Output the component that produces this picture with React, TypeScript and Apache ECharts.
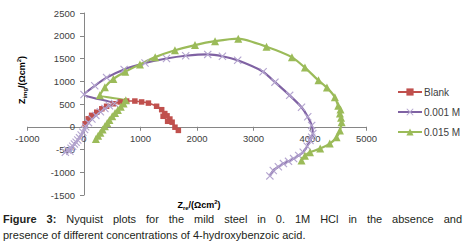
import React, { useEffect, useRef } from "react";
import * as echarts from "echarts";

const xTicks = [-1000, 0, 1000, 2000, 3000, 4000, 5000];
const yTicks = [-1500, -1000, -500, 0, 500, 1000, 1500, 2000, 2500];

const seriesNames = ["Blank", "0.001 M", "0.015 M"];

const blankZre = [20, 75, 135, 225, 315, 400, 520, 640, 755, 900, 1020, 1140, 1285, 1375, 1430, 1400, 1470, 1520, 1480, 1560, 1610, 1670];
const blankZimg = [65, 175, 250, 320, 395, 450, 505, 545, 565, 565, 545, 520, 450, 375, 290, 230, 240, 170, 120, 100, -10, -80];

const m001Zre = [-330, -290, -250, -230, -200, -170, -140, -110, -80, -50, -20, 10, 30, 80, 140, 210, 290, 370, 450, 540,
  0, 190, 400, 710, 1080, 1460, 1800, 2190, 2450, 2720, 3170, 3380, 3640, 3850, 3960, 4030, 4050, 4030, 4000, 3950, 3880, 3800, 3710, 3620, 3530, 3440, 3350, 3290];
const m001Zimg = [-560, -510, -540, -470, -430, -380, -340, -290, -240, -180, -120, -60, 0, 90, 170, 250, 330, 400, 460, 510,
  710, 900, 1080, 1260, 1400, 1500, 1560, 1590, 1550, 1460, 1210, 980, 690, 430, 220, 30, -150, -230, -300, -430, -560, -630, -700, -760, -810, -880, -960, -1080];

const m015Zre = [210, 250, 290, 330, 370, 410, 450, 500, 550, 600, 650, 700, 740,
  280, 370, 520, 730, 990, 1260, 1610, 1965, 2320, 2730, 3230, 3680, 3910, 4150, 4300, 4440, 4500, 4540, 4530, 4550, 4560, 4530, 4470, 4350, 4180, 4000, 3910, 3850];
const m015Zimg = [-270, -200, -130, -60, 10, 80, 150, 230, 300, 370, 440, 510, 580,
  690, 870, 1050, 1210, 1370, 1530, 1680, 1795, 1880, 1935, 1760, 1530, 1300, 1020, 860, 650, 460, 380, 290, 200, 100, -80, -230, -370, -480, -560, -640, -740];

const zip = (a: number[], b: number[]) => a.map((v, i) => [v, b[i]]);

const crossPath = "path://M0,1 L1,0 L5,4 L9,0 L10,1 L6,5 L10,9 L9,10 L5,6 L1,10 L0,9 L4,5 Z";

const GRID_LEFT = 27.5;
const GRID_TOP = 13;
const GRID_W = 339;
const GRID_H = 182;

export default function App() {
  const ref = useRef<HTMLDivElement>(null);
  useEffect(() => {
    if (!ref.current) return;
    const chart = echarts.init(ref.current, null, { renderer: "svg" });
    const xMin = xTicks[0];
    const xMax = xTicks[xTicks.length - 1];
    const yMin = yTicks[0];
    const yMax = yTicks[yTicks.length - 1];
    // shift the axes onto the zero lines (like the reference)
    const xAxisOffset = -(GRID_H * (0 - yMin)) / (yMax - yMin);
    const yAxisOffset = -(GRID_W * (0 - xMin)) / (xMax - xMin);
    const axisFont = { fontFamily: "Liberation Sans, Arial, sans-serif", fontSize: 9.5, color: "#404040" };
    const titleRich = {
      b: { fontFamily: "Liberation Sans, Arial, sans-serif", fontSize: 9, fontWeight: "bold", color: "#404040", lineHeight: 12 },
      sub: { fontFamily: "Liberation Sans, Arial, sans-serif", fontSize: 6, fontWeight: "bold", color: "#404040", lineHeight: 12, verticalAlign: "bottom", padding: [4, 0, 0, 0] },
      sup: { fontFamily: "Liberation Sans, Arial, sans-serif", fontSize: 6, fontWeight: "bold", color: "#404040", lineHeight: 12, verticalAlign: "top", padding: [0, 0, 3, 0] },
    };
    chart.setOption({
      animation: false,
      grid: { left: GRID_LEFT, top: GRID_TOP, width: GRID_W, height: GRID_H, containLabel: false, outerBoundsMode: "none" },
      legend: {
        orient: "vertical",
        left: 392,
        top: 82,
        itemWidth: 24,
        itemHeight: 9,
        itemGap: 10,
        textStyle: { fontFamily: "Liberation Sans, Arial, sans-serif", fontSize: 10, color: "#404040", padding: [0, 0, 0, -3] },
        data: seriesNames,
      },
      xAxis: {
        type: "value",
        min: xMin,
        max: xMax,
        interval: 1000,
        position: "bottom",
        offset: xAxisOffset,
        axisLine: { onZero: false, lineStyle: { color: "#868686", width: 1 } },
        axisTick: { show: true, length: 4, lineStyle: { color: "#868686" } },
        axisLabel: { ...axisFont, margin: 7, formatter: (v: number) => String(v) },
        splitLine: { show: false },
      },
      yAxis: {
        type: "value",
        min: yMin,
        max: yMax,
        interval: 500,
        position: "left",
        offset: yAxisOffset,
        axisLine: { show: true, onZero: false, lineStyle: { color: "#868686", width: 1 } },
        axisTick: { show: true, length: 4, lineStyle: { color: "#868686" } },
        axisLabel: { ...axisFont, margin: 9, formatter: (v: number) => String(v) },
        splitLine: { show: false },
      },
      graphic: [
        {
          type: "text",
          x: 22,
          y: 80,
          rotation: Math.PI / 2,
          style: { text: "{b|Z}{sub|img}{b|/(Ωcm}{sup|2}{b|)}", rich: titleRich, align: "center", verticalAlign: "middle" },
        },
        {
          type: "text",
          x: 199,
          y: 205,
          style: { text: "{b|Z}{sub|re}{b|/(Ωcm}{sup|2}{b|)}", rich: titleRich, align: "center", verticalAlign: "middle" },
        },
      ],
      series: [
        {
          name: seriesNames[0],
          type: "line",
          data: zip(blankZre, blankZimg),
          symbol: "rect",
          symbolSize: 5.5,
          smooth: 0.2,
          lineStyle: { color: "#C0504D", width: 1.5 },
          itemStyle: { color: "#C0504D" },
        },
        {
          name: seriesNames[1],
          type: "line",
          data: zip(m001Zre, m001Zimg),
          symbol: crossPath,
          symbolSize: 8,
          smooth: 0.2,
          lineStyle: { color: "#7F62A3", width: 2.2 },
          itemStyle: { color: "#B4A5CF" },
        },
        {
          name: seriesNames[2],
          type: "line",
          data: zip(m015Zre, m015Zimg),
          symbol: "triangle",
          symbolSize: 8,
          smooth: 0.2,
          lineStyle: { color: "#9BBB59", width: 2.2 },
          itemStyle: { color: "#9BBB59" },
        },
      ],
    });
    return () => chart.dispose();
  }, []);

  return (
    <div style={{ position: "fixed", left: 0, top: 0, width: 464, height: 251, background: "#fff", overflow: "hidden" }}>
      <div ref={ref} style={{ position: "absolute", left: 0, top: 0, width: 464, height: 212 }} />
      <div
        style={{
          position: "absolute",
          left: 3,
          top: 211,
          width: 459,
          fontFamily: "Liberation Sans, Arial, sans-serif",
          fontSize: 11,
          lineHeight: "16px",
          color: "#231f20",
        }}
      >
        <div style={{ textAlign: "justify", textAlignLast: "justify" as any }}>
          <b>Figure 3:</b> Nyquist plots for the mild steel in 0. 1M HCl in the absence and
        </div>
        <div>presence of different concentrations of 4-hydroxybenzoic acid.</div>
      </div>
    </div>
  );
}
